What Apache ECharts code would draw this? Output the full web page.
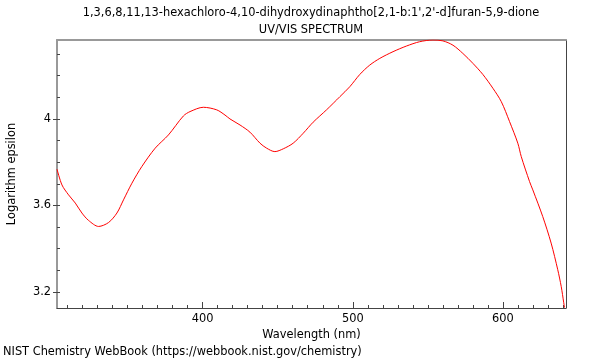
<!DOCTYPE html>
<html>
<head>
<meta charset="utf-8">
<script src="https://cdn.jsdelivr.net/npm/echarts@6/dist/echarts.min.js"></script>
<style>html,body{margin:0;padding:0;background:#fff}#c{width:600px;height:360px}</style>
</head>
<body>
<div id="c"></div>
<script>
var titleLine1 = "1,3,6,8,11,13-hexachloro-4,10-dihydroxydinaphtho[2,1-b:1',2'-d]furan-5,9-dione";
var titleLine2 = "UV/VIS SPECTRUM";
var xName = "Wavelength (nm)";
var yName = "Logarithm epsilon";
var footer = "NIST Chemistry WebBook (https://webbook.nist.gov/chemistry)";

var wavelengths = [303.0,306.3,310.7,315.2,319.6,324.0,330.7,337.3,342.9,347.3,352.9,359.5,368.4,377.2,387.2,391.6,400.5,409.4,414.9,418.2,424.9,431.5,438.2,442.6,448.1,453.7,460.3,467.0,473.6,482.5,491.4,498.0,504.7,511.3,518.0,526.8,535.7,544.5,553.4,560.0,566.7,573.3,580.0,586.6,593.3,598.9,604.4,609.9,612.2,617.7,619.9,626.5,632.1,636.5,638.8,640.5,641.0];
var logEps = [3.768,3.695,3.649,3.611,3.565,3.531,3.503,3.521,3.565,3.626,3.703,3.780,3.865,3.926,4.014,4.034,4.054,4.042,4.018,4.000,3.972,3.939,3.888,3.865,3.849,3.862,3.888,3.934,3.985,4.042,4.103,4.149,4.206,4.249,4.280,4.311,4.337,4.357,4.365,4.361,4.341,4.303,4.257,4.206,4.142,4.080,3.988,3.888,3.826,3.711,3.672,3.549,3.426,3.303,3.226,3.150,3.128];

var xMinorTicks = [310,320,330,340,350,360,370,380,390,400,410,420,430,440,450,460,470,480,490,500,510,520,530,540,550,560,570,580,590,600,610,620,630,640];
var xMajorTicks = [400,500,600];
var yMinorTicks = [3.2,3.3,3.4,3.5,3.6,3.7,3.8,3.9,4.0,4.1,4.2,4.3];
var yMajorTicks = [3.2,3.6,4.0];

var X_MIN = 303, X_MAX = 642, Y_MIN = 3.126, Y_MAX = 4.365;
var FONT = "DejaVu Sans";
var FS = 11.4;

var data = wavelengths.map(function (w, i) { return [w, logEps[i]]; });

var chart = echarts.init(document.getElementById('c'), null, {renderer: 'canvas'});
var common = {min: X_MIN, max: X_MAX, type: 'value', splitLine: {show: false}};
var commonY = {min: Y_MIN, max: Y_MAX, type: 'value', splitLine: {show: false}};
function txt(s, x, y, align) {
  return {type: 'text', x: x, y: y, silent: true,
    style: {text: s, fill: '#000', font: FS + 'px "' + FONT + '"', textAlign: align, textVerticalAlign: 'middle'}};
}
chart.setOption({
  animation: false,
  backgroundColor: '#fff',
  textStyle: {fontFamily: FONT},
  graphic: [
    txt(titleLine1, 311, 13, 'center'),
    txt(titleLine2, 311, 30, 'center'),
    txt(footer, 3, 352, 'left')
  ],
  grid: {left: 57, right: 34, top: 40, bottom: 52, show: false, outerBoundsMode: 'none', containLabel: false},
  xAxis: [
    Object.assign({}, common, {position: 'bottom', gridIndex: 0,
      axisLine: {show: true, onZero: false, lineStyle: {color: '#444', width: 1}},
      axisTick: {show: true, inside: true, length: 3, customValues: xMinorTicks, lineStyle: {color: '#444'}},
      axisLabel: {show: false}}),
    Object.assign({}, common, {position: 'bottom', gridIndex: 0,
      name: xName, nameLocation: 'middle', nameGap: 20,
      nameTextStyle: {fontFamily: FONT, fontSize: FS, color: '#000'},
      axisLine: {show: false, onZero: false},
      axisTick: {show: true, inside: true, length: 6, customValues: xMajorTicks, lineStyle: {color: '#444'}},
      axisLabel: {show: true, customValues: xMajorTicks, fontFamily: FONT, fontSize: FS, color: '#000', margin: 6}}),
    Object.assign({}, common, {position: 'top', gridIndex: 0,
      axisLine: {show: true, onZero: false, lineStyle: {color: '#999', width: 2}},
      axisTick: {show: false}, axisLabel: {show: false}})
  ],
  yAxis: [
    Object.assign({}, commonY, {position: 'left',
      axisLine: {show: true, onZero: false, lineStyle: {color: '#999', width: 2}},
      axisTick: {show: true, inside: true, length: 3, customValues: yMinorTicks, lineStyle: {color: '#444'}},
      axisLabel: {show: false}}),
    Object.assign({}, commonY, {position: 'left',
      name: yName, nameLocation: 'middle', nameGap: 39, nameRotate: 90,
      nameTextStyle: {fontFamily: FONT, fontSize: FS, color: '#000'},
      axisLine: {show: false, onZero: false},
      axisTick: {show: true, inside: false, length: 4, customValues: yMajorTicks, lineStyle: {color: '#444'}},
      axisLabel: {show: true, customValues: yMajorTicks, fontFamily: FONT, fontSize: FS, color: '#000', margin: 6,
        formatter: function (v) { return (Math.round(v * 10) / 10).toString(); }}}),
    Object.assign({}, commonY, {position: 'right',
      axisLine: {show: true, onZero: false, lineStyle: {color: '#444', width: 1}},
      axisTick: {show: false}, axisLabel: {show: false}})
  ],
  series: [{
    type: 'line', xAxisIndex: 0, yAxisIndex: 0, data: data,
    showSymbol: false, symbol: 'none', smooth: 0.3,
    lineStyle: {color: '#ff0000', width: 1}
  }]
});
</script>
</body>
</html>
